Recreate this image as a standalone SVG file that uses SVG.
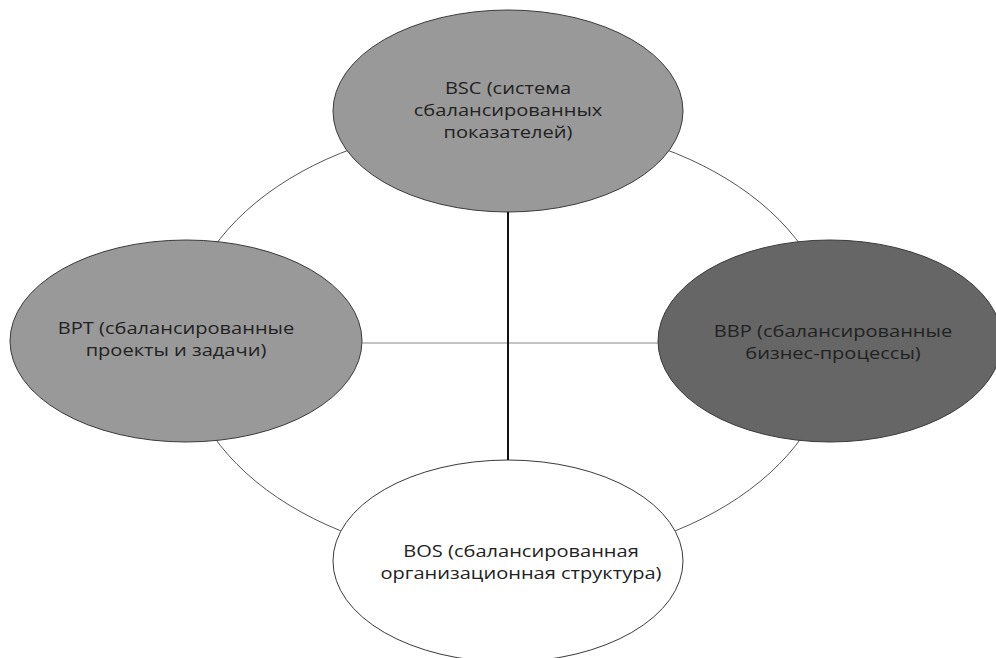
<svg xmlns="http://www.w3.org/2000/svg" width="996" height="658" viewBox="0 0 996 658">
<style>
.node{stroke:#3a3a3a;stroke-width:1;}
.lbl{font-family:"Open Sans","DejaVu Sans",sans-serif;font-size:17px;fill:#222;text-anchor:middle;}
.ring{fill:none;stroke:#555;stroke-width:1;}
</style>
<rect width="996" height="658" fill="#fff"/>
<g id="connectors">
<ellipse class="ring" cx="508" cy="342" rx="326" ry="220"/>
<line x1="362" y1="343" x2="660" y2="343" stroke="#888" stroke-width="1"/>
</g>
<g id="bsc">
<ellipse class="node" cx="508" cy="111" rx="175" ry="101" fill="#999999"/>
<g transform="translate(508,0) scale(1.18,1)">
<text class="lbl" x="0" y="94">BSC (система</text>
<text class="lbl" x="0" y="116">сбалансированных</text>
<text class="lbl" x="0" y="138">показателей)</text>
</g>
</g>
<g id="bpt">
<ellipse class="node" cx="186" cy="341" rx="176" ry="101" fill="#999999"/>
<g transform="translate(176,0) scale(1.18,1)">
<text class="lbl" x="0" y="334">BPT (сбалансированные</text>
<text class="lbl" x="0" y="356">проекты и задачи)</text>
</g>
</g>
<g id="bbp">
<ellipse class="node" cx="830" cy="341" rx="172" ry="101" fill="#666666"/>
<g transform="translate(833,0) scale(1.18,1)">
<text class="lbl" x="0" y="337">BBP (сбалансированные</text>
<text class="lbl" x="0" y="359">бизнес-процессы)</text>
</g>
</g>
<g id="bos">
<ellipse class="node" cx="508" cy="561" rx="175" ry="101" fill="#ffffff"/>
<g transform="translate(521,0) scale(1.18,1)">
<text class="lbl" x="0" y="557">BOS (сбалансированная</text>
<text class="lbl" x="0" y="579">организационная структура)</text>
</g>
</g>
<g id="axis">
<line x1="508" y1="212" x2="508" y2="460" stroke="#111" stroke-width="2"/>
</g>
</svg>
